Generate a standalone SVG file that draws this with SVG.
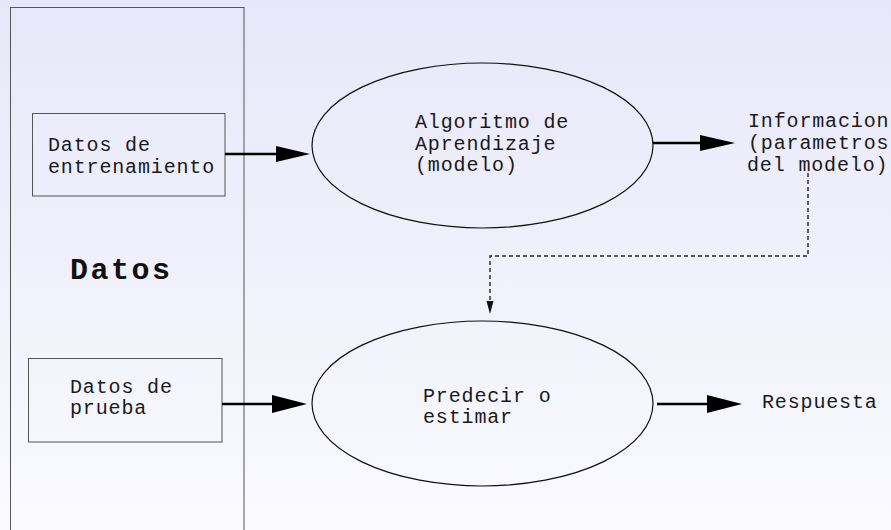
<svg xmlns="http://www.w3.org/2000/svg" width="891" height="530" viewBox="0 0 891 530">
<defs>
<linearGradient id="bg" x1="0" y1="0" x2="0" y2="1">
<stop offset="0" stop-color="#e7e7f9"/>
<stop offset="1" stop-color="#fafaff"/>
</linearGradient>
</defs>
<style>
.t{font-family:"Liberation Mono","Courier New",monospace;font-size:20px;letter-spacing:0.85px;fill:#1a1a1a}
.big{font-family:"Liberation Mono","Courier New",monospace;font-size:30px;font-weight:bold;letter-spacing:2.5px;fill:#111}
.box{fill:none;stroke:#555;stroke-width:1}
.ell{fill:none;stroke:#111;stroke-width:1.2}
.ln{stroke:#000;stroke-width:2.4;fill:none}
.hd{fill:#000}
.dash{stroke:#222;stroke-width:1.4;fill:none;stroke-dasharray:4 3}
</style>
<rect x="0" y="0" width="891" height="530" fill="url(#bg)"/>

<g id="datos">
<rect class="box" x="10.5" y="7.5" width="233.5" height="530"/>
<text class="big" x="70" y="279">Datos</text>
</g>

<g id="entrenamiento">
<rect class="box" x="32.5" y="113.5" width="192.5" height="82.5"/>
<text class="t" x="48" y="151">Datos de</text>
<text class="t" x="48" y="173">entrenamiento</text>
</g>

<g id="prueba">
<rect class="box" x="28.5" y="358.5" width="193.5" height="83.5"/>
<text class="t" x="70" y="393">Datos de</text>
<text class="t" x="70" y="414">prueba</text>
</g>

<g id="algoritmo">
<ellipse class="ell" cx="482.5" cy="145.5" rx="170.5" ry="82.5"/>
<text class="t" x="415" y="128">Algoritmo de</text>
<text class="t" x="415" y="150">Aprendizaje</text>
<text class="t" x="415" y="171">(modelo)</text>
</g>

<g id="informacion">
<text class="t" x="748" y="127">Informacion</text>
<text class="t" x="748" y="149">(parametros</text>
<text class="t" x="747" y="171">del modelo)</text>
</g>

<g id="predecir">
<ellipse class="ell" cx="482.5" cy="403.5" rx="170.5" ry="82.5"/>
<text class="t" x="423" y="402">Predecir o</text>
<text class="t" x="423" y="423">estimar</text>
</g>

<g id="respuesta">
<text class="t" x="762" y="408">Respuesta</text>
</g>

<g id="connectors">
<line class="ln" x1="225" y1="154" x2="280" y2="154"/>
<polygon class="hd" points="276,146 310,154 276,162"/>
<line class="ln" x1="653" y1="143" x2="704" y2="143"/>
<polygon class="hd" points="700,135 735,143 700,151"/>
<line class="ln" x1="222" y1="404" x2="276" y2="404"/>
<polygon class="hd" points="272,395 307,404 272,413"/>
<line class="ln" x1="657" y1="404" x2="711" y2="404"/>
<polygon class="hd" points="707,395 742,404 707,413"/>
<polyline class="dash" points="808,173 808,256 490,256 490,302"/>
<polygon fill="#111" points="486.5,301 493.5,301 490,314"/>
</g>
</svg>
